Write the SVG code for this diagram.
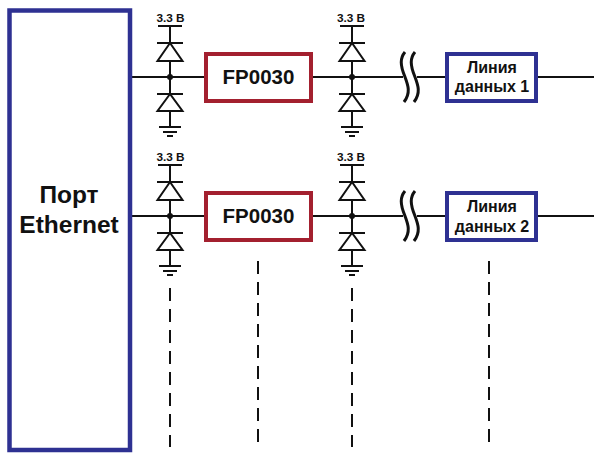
<svg xmlns="http://www.w3.org/2000/svg" xmlns:xlink="http://www.w3.org/1999/xlink" width="602" height="461" viewBox="0 0 602 461">
<style>
text{font-family:"Liberation Sans",Arial,sans-serif;font-weight:bold;fill:#111;text-anchor:middle}
.w{fill:none;stroke:#111;stroke-width:2}
.d{fill:none;stroke:#111;stroke-width:2;stroke-dasharray:13 8}
.b{fill:#fff;stroke:#2e3192;stroke-width:4}
.r{fill:#fff;stroke:#a3202f;stroke-width:4}
.v{font-size:11.800px}
.f{font-size:20.500px}
.l{font-size:16px}
.p{font-size:24.500px}
</style>
<defs>
<g id="clamp">
<path class="w" d="M-12 26H12M0 26V43M-13 43H13M0 43L-12.500 61H12.500ZM0 61V94M-13 94H13M0 94L-12.500 111H12.500ZM0 111V127M-11 127H11M-7 132H7"/>
<path d="M-3 136H3" fill="none" stroke="#111" stroke-width="2"/>
<circle cx="0" cy="77" r="3" fill="#111"/>
</g>
<g id="brk"><path fill="none" stroke="#111" stroke-width="3" d="M405 52C400 58 400 65 405 77C408 85 411 93 404 102M415 52C410 58 410 65 415 77C418 85 421 93 414 102"/></g>
</defs>
<g id="connectors">
<path class="w" d="M132 77H206M311 77H403M417 77H447M536 77H594M132 216H206M311 216H403M417 216H447M536 216H594"/>
<path class="d" d="M170 288V447M258 261V450M352 288V447M489 261V450"/>
<use xlink:href="#clamp" href="#clamp" x="170"/>
<use xlink:href="#clamp" href="#clamp" x="352"/>
<use xlink:href="#clamp" href="#clamp" x="170" y="139"/>
<use xlink:href="#clamp" href="#clamp" x="352" y="139"/>
<use xlink:href="#brk" href="#brk"/>
<use xlink:href="#brk" href="#brk" y="139"/>
</g>
<g id="port"><rect class="b" x="9.500" y="10.500" width="120.500" height="439.500" style="stroke-width:4.500"/><text class="p" x="69" y="203">Порт</text><text class="p" x="69" y="233">Ethernet</text></g>
<g id="fp1"><rect class="r" x="206" y="54" width="105" height="47"/><text class="f" x="258.500" y="84">FP0030</text></g>
<g id="fp2"><rect class="r" x="206" y="193" width="105" height="47"/><text class="f" x="258.500" y="223">FP0030</text></g>
<g id="line1"><rect class="b" x="447" y="54" width="89" height="47"/><text class="l" x="492" y="73">Линия</text><text class="l" x="492" y="92">данных 1</text></g>
<g id="line2"><rect class="b" x="447" y="193" width="89" height="47"/><text class="l" x="492" y="212">Линия</text><text class="l" x="492" y="231.500">данных 2</text></g>
<g id="v"><text class="v" x="170.500" y="22">3.3 В</text><text class="v" x="351" y="22">3.3 В</text><text class="v" x="170.500" y="161">3.3 В</text><text class="v" x="351" y="161">3.3 В</text></g>
</svg>
